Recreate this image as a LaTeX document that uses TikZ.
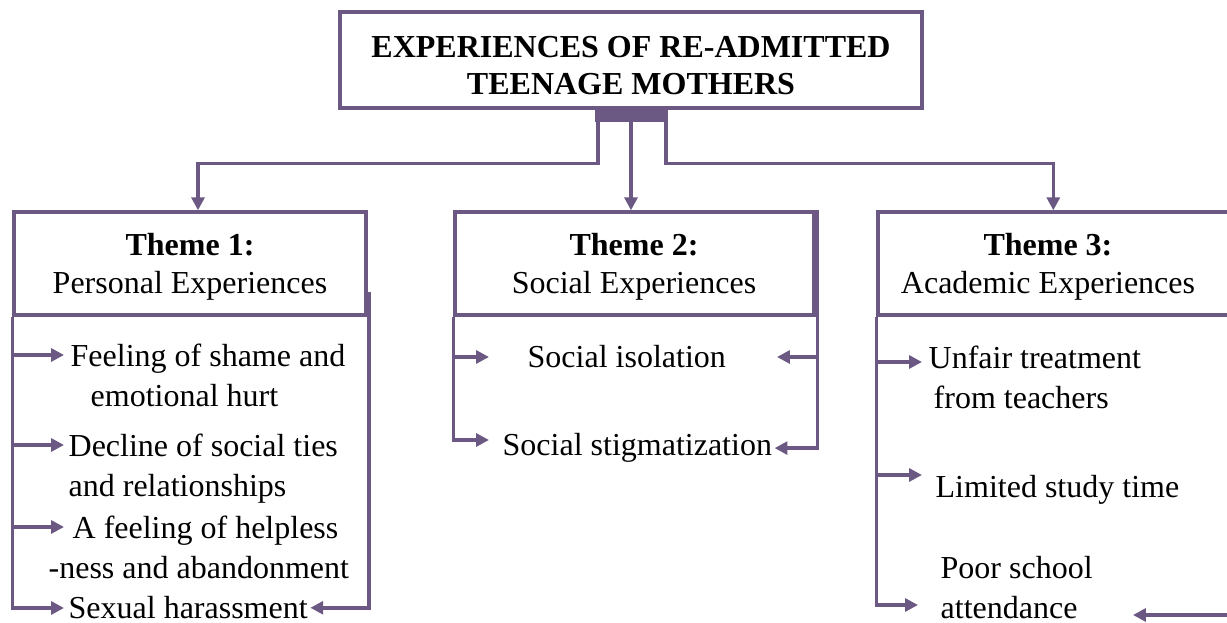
\documentclass[tikz,border=0pt]{standalone}
\usepackage{fontspec}
\setmainfont{Liberation Serif}
\usetikzlibrary{arrows.meta,positioning}

\definecolor{themepurple}{RGB}{107,88,131}

\tikzset{
  box/.style={draw=themepurple, line width=1.3pt, rectangle, inner sep=0pt},
  head/.style={align=center, inner sep=0pt, font=\fontsize{12}{14.3}\selectfont},
  conn/.style={themepurple, line width=1.3pt},
  arr/.style={conn, -{Triangle[length=4.8pt,width=4.8pt]}},
  item/.style={anchor=north west, inner xsep=0.8pt, inner ysep=0pt, align=left, font=\fontsize{12}{15}\selectfont},
}

\begin{document}
\begin{tikzpicture}[x=0.375pt, y=-0.375pt]
    \useasboundingbox (0,0) rectangle (1227,623);

    % main heading
    \node[box, line width=1.6pt, minimum width=218.25pt, minimum height=36pt] (title) at (631,60) {};
    \node[head, font=\fontsize{12}{13.9}\selectfont\bfseries] (titletext) at (631,66) {EXPERIENCES OF RE-ADMITTED\\TEENAGE MOTHERS};
    \fill[themepurple] (595,108) rectangle (668,122);
    \coordinate (sl) at (598,122);
    \coordinate (sm) at (631,122);
    \coordinate (sr) at (666,122);

    % theme headers
    \node[box, minimum width=132pt, minimum height=38.6pt] (t1) at (190,263.5) {};
    \node[box, minimum width=134.6pt, minimum height=38.6pt] (t2) at (634.5,263.5) {};
    \node[box, minimum width=136.5pt, minimum height=38.6pt] (t3) at (1060,263.5) {};
    \node[head] (h1) at (190,267) {\textbf{Theme 1:}\\Personal Experiences};
    \node[head] (h2) at (634,267) {\textbf{Theme 2:}\\Social Experiences};
    \node[head] (h3) at (1048,267) {\textbf{Theme 3:}\\Academic Experiences};

    \draw[arr] (sl) |- ([xshift=3pt,yshift=17.6pt]t1.north) -- ([xshift=3pt]t1.north);
    \draw[arr] (sm) -- (sm |- t2.north);
    \draw[arr] (sr) |- ([xshift=-2.5pt,yshift=17.6pt]t3.north) -- ([xshift=-2.5pt]t3.north);

    % theme 1 items
    \node[item] (i11) at (68,343) {Feeling of shame and\\\hspace*{7.5pt}emotional hurt};
    \node[item] (i12) at (66,433) {Decline of social ties\\and relationships};
    \node[item] (i13) at (46,515) {\hspace*{9pt}A feeling of helpless\\-ness and abandonment};
    \node[item] (i14) at (66,596) {Sexual harassment};

    \foreach \y in {355,445,527}
        \draw[arr] (t1.west |- 0,\y) -- (64,\y);
    \draw[arr] (t1.south west) |- (64,608);
    \draw[arr] ([xshift=0.5pt]t1.east |- 0,292) |- (i14.east);

    % theme 2 items
    \node[item] (i21) at (525,345) {Social isolation};
    \node[item] (i22) at (500,433) {Social stigmatization};

    \draw[arr] (t2.west |- 0,357) -- (489,357);
    \draw[arr] (t2.south west) |- (489,440);
    \draw[arr] ([xshift=0.6pt]t2.east |- 0,357) -- (777,357);
    \draw[arr] ([xshift=0.6pt]t2.north east) |- (i22.east);

    % theme 3 items
    \node[item] (i31) at (926,345) {Unfair treatment\\\hspace*{1.9pt}from teachers};
    \node[item] (i32) at (933,475) {Limited study time};
    \node[item] (i33) at (938,556) {Poor school\\attendance};

    \foreach \y in {362,475}
        \draw[arr] (t3.west |- 0,\y) -- (922,\y);
    \draw[arr] (t3.south west) |- (918,605);
    \coordinate (t3r) at (t3.east |- 0,615);
    \draw[arr] (t3r) -- (1133,615);
\end{tikzpicture}
\end{document}
